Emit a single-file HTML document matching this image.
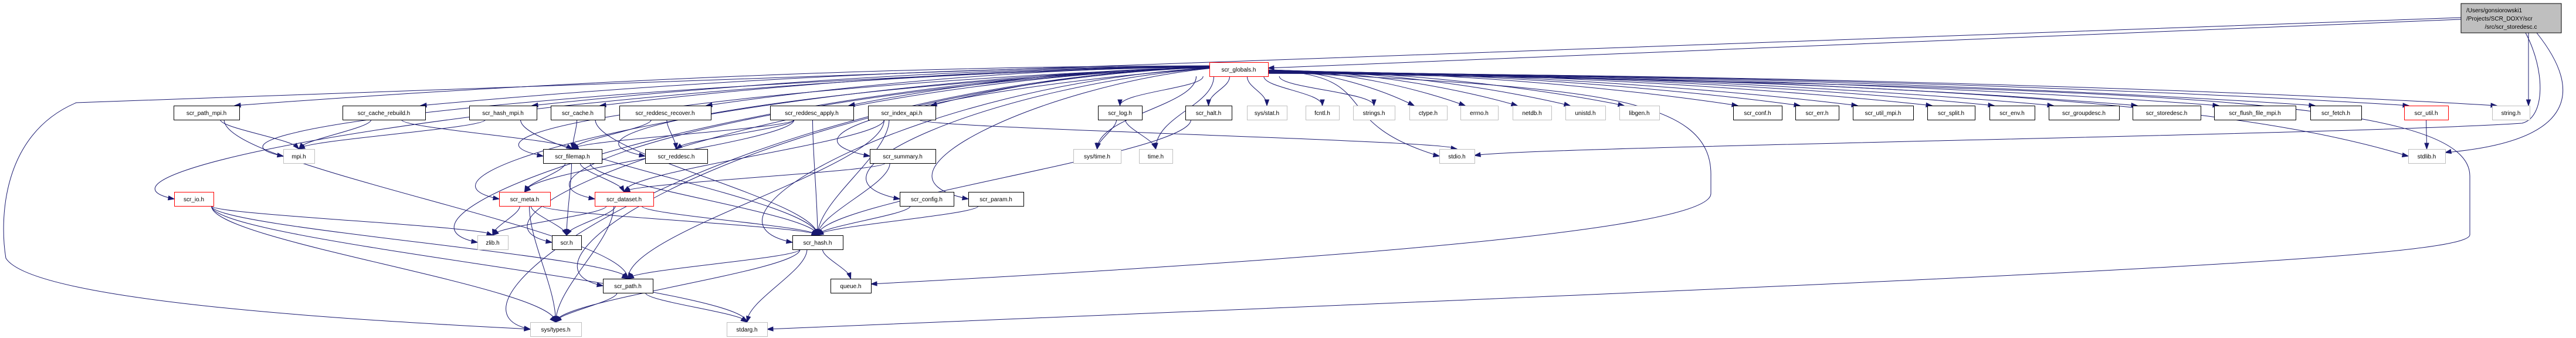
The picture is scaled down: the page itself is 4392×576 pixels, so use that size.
<!DOCTYPE html>
<html><head><meta charset="utf-8"><style>
html,body{margin:0;padding:0;background:#fff;}
svg{display:block;}
text{font-family:"Liberation Sans",Arial,sans-serif;font-size:10px;}
</style></head><body>
<svg id="g" width="4392" height="576" xmlns="http://www.w3.org/2000/svg">
<g id="edges" fill="none" stroke="#191970" stroke-width="1"></g>
<g id="arrows" fill="#191970" stroke="#191970"></g>
<g id="nodes">
<rect x="4196" y="6" width="171" height="50" fill="#bfbfbf" stroke="#000"/>
<text x="4205" y="21">/Users/gonsiorowski1</text>
<text x="4205" y="35">/Projects/SCR_DOXY/scr</text>
<text x="4281" y="49" text-anchor="middle">/src/scr_storedesc.c</text>
</g>
</svg>
<script>
var N={
globals:[2062,2162,106,'r','scr_globals.h'],
path_mpi:[296,408,180,'k','scr_path_mpi.h'],
cache_rebuild:[584,725,180,'k','scr_cache_rebuild.h'],
hash_mpi:[800,915,180,'k','scr_hash_mpi.h'],
cache:[939,1031,180,'k','scr_cache.h'],
reddesc_recover:[1056,1212,180,'k','scr_reddesc_recover.h'],
reddesc_apply:[1313,1455,180,'k','scr_reddesc_apply.h'],
index_api:[1480,1595,180,'k','scr_index_api.h'],
log:[1872,1947,180,'k','scr_log.h'],
halt:[2021,2100,180,'k','scr_halt.h'],
sysstat:[2126,2194,180,'g','sys/stat.h'],
fcntl:[2226,2283,180,'g','fcntl.h'],
strings:[2307,2378,180,'g','strings.h'],
ctype:[2403,2467,180,'g','ctype.h'],
errno:[2490,2554,180,'g','errno.h'],
netdb:[2579,2645,180,'g','netdb.h'],
unistd:[2669,2737,180,'g','unistd.h'],
libgen:[2761,2829,180,'g','libgen.h'],
conf:[2955,3038,180,'k','scr_conf.h'],
err:[3061,3135,180,'k','scr_err.h'],
util_mpi:[3159,3262,180,'k','scr_util_mpi.h'],
split:[3286,3367,180,'k','scr_split.h'],
env:[3392,3469,180,'k','scr_env.h'],
groupdesc:[3493,3613,180,'k','scr_groupdesc.h'],
storedesc:[3636,3752,180,'k','scr_storedesc.h'],
flush:[3775,3914,180,'k','scr_flush_file_mpi.h'],
fetch:[3939,4026,180,'k','scr_fetch.h'],
util:[4099,4174,180,'r','scr_util.h'],
string:[4249,4313,180,'g','string.h'],
mpi:[483,536,254,'g','mpi.h'],
filemap:[926,1026,254,'k','scr_filemap.h'],
reddesc:[1100,1206,254,'k','scr_reddesc.h'],
summary:[1483,1595,254,'k','scr_summary.h'],
systime:[1830,1911,254,'g','sys/time.h'],
time:[1942,1999,254,'g','time.h'],
stdio:[2454,2514,254,'g','stdio.h'],
stdlib:[4106,4169,254,'g','stdlib.h'],
io:[297,364,327,'r','scr_io.h'],
meta:[851,938,327,'r','scr_meta.h'],
dataset:[1014,1114,327,'r','scr_dataset.h'],
config:[1534,1626,327,'k','scr_config.h'],
param:[1651,1745,327,'k','scr_param.h'],
zlib:[814,866,401,'g','zlib.h'],
scr:[941,991,401,'k','scr.h'],
hash:[1351,1437,401,'k','scr_hash.h'],
path:[1028,1113,475,'k','scr_path.h'],
queue:[1416,1485,475,'k','queue.h'],
systypes:[904,991,549,'g','sys/types.h'],
stdarg:[1239,1308,549,'g','stdarg.h']
};
var NS='http://www.w3.org/2000/svg';
var E=document.getElementById('edges'),A=document.getElementById('arrows'),G=document.getElementById('nodes');
function el(t,a,p){var e=document.createElementNS(NS,t);for(var k in a)e.setAttribute(k,a[k]);p.appendChild(e);return e;}
function arrow(cx,cy,ex,ey){var dx=ex-cx,dy=ey-cy,l=Math.hypot(dx,dy)||1;dx/=l;dy/=l;var L=10,W=3.5;
var bx=ex-dx*L,by=ey-dy*L;el('polygon',{points:ex+','+ey+' '+(bx-dy*W)+','+(by+dx*W)+' '+(bx+dy*W)+','+(by-dx*W)},A);}
function path(d,cx,cy,ex,ey){el('path',{d:d},E);arrow(cx,cy,ex,ey);}
function cx(n){return (N[n][0]+N[n][1])/2;}
function edge(s,t){var S=N[s],T=N[t];var sb=S[2]+24,ty=T[2];var tcx=cx(t),scx=cx(s);
 var sx,sy,ex=tcx,ey=ty;
 if(s=='globals'){var d=tcx-2112;
  if(Math.abs(d)<250){sx=2112+d*0.3;sy=130;ex=tcx;ey=ty;
   var c2y=ey-(ey-sy)*0.45;path('M'+sx+','+sy+' C'+sx+','+(sy+(ey-sy)*0.4)+' '+ex+','+c2y+' '+ex+','+ey,ex,c2y,ex,ey);return;}
  sx=d<0?2062:2162;sy=118+Math.max(-10,Math.min(10,d/300));
  if(ty==180){ex=d<0?T[1]-8:T[0]+8;ey=180;
   var c1x=sx+(ex-sx)*0.4;path('M'+sx+','+sy+' C'+c1x+','+sy+' '+(ex-(ex-sx)*0.2)+','+(ey-25)+' '+ex+','+ey,ex-(ex-sx)*0.2,ey-25,ex,ey);return;}
  if(d<0){ex=T[0];ey=ty+12;
   var c1x=sx-(sx-ex)*0.7;
   path('M'+sx+','+sy+' C'+c1x+','+(sy+30)+' '+(ex-200)+','+(ey-40)+' '+ex+','+ey,ex-30,ey-5,ex,ey);return;}
  ex=T[0];ey=ty+12;
  var mx=sx+(ex-sx)*0.7;
  path('M'+sx+','+sy+' C'+mx+','+(sy+10)+' '+(ex-200)+','+(ey-60)+' '+ex+','+ey,ex-60,ey-12,ex,ey);return;}
 sx=scx+Math.max(-30,Math.min(30,(tcx-scx)*0.15));sy=sb;
 var h=ey-sy;path('M'+sx+','+sy+' C'+sx+','+(sy+h*0.3)+' '+ex+','+(ey-h*0.3)+' '+ex+','+ey,ex-(ex-sx)*0.1,ey-h*0.3,ex,ey);}
var gl=['path_mpi','cache_rebuild','hash_mpi','cache','reddesc_recover','reddesc_apply','index_api','log','halt','sysstat','fcntl','strings','ctype','errno','netdb','unistd','libgen','conf','err','util_mpi','split','env','groupdesc','storedesc','flush','fetch','util','string','mpi','filemap','reddesc','summary','systime','time','stdio','stdlib','io','meta','dataset','config','param','zlib','scr','hash','path','systypes'];
gl.forEach(function(t){edge('globals',t);});
[['path_mpi','mpi'],['path_mpi','path'],['cache_rebuild','mpi'],['cache_rebuild','filemap'],['hash_mpi','mpi'],['hash_mpi','hash'],['cache','filemap'],['cache','hash'],
['reddesc_recover','filemap'],['reddesc_recover','reddesc'],['reddesc_apply','reddesc'],['reddesc_apply','filemap'],['reddesc_apply','hash'],['reddesc_apply','meta'],
['index_api','hash'],['index_api','path'],['index_api','dataset'],['index_api','stdio'],['log','systime'],['log','time'],['halt','hash'],['summary','dataset'],['summary','hash'],
['config','hash'],['param','hash'],['filemap','meta'],['filemap','dataset'],['filemap','scr'],['filemap','hash'],['meta','zlib'],['meta','scr'],['meta','systypes'],['meta','hash'],
['dataset','zlib'],['dataset','scr'],['dataset','systypes'],['dataset','hash'],['io','zlib'],['io','path'],['io','systypes'],['io','stdarg'],
['hash','path'],['hash','queue'],['hash','stdarg'],['hash','systypes'],['path','systypes'],['path','stdarg'],['util','stdlib']].forEach(function(p){edge(p[0],p[1]);});
path('M2162,122 C2700,150 2920,160 2917,300 L2917,330 C2917,380 2500,430 1485,484',1600,478,1485,484);
path('M2162,124 C3600,150 4211,160 4211,300 L4211,400 C4211,440 3500,470 1308,561',1400,557,1308,561);
path('M4196,33 L2162,116',2180,115,2162,116);
path('M4196,30 L130,175 C0,230 0,380 10,440 C60,520 700,550 904,561',800,556,904,561);
path('M4306,56 C4340,120 4340,200 4300,210 C4000,230 2600,250 2514,265',2560,258,2514,265);
path('M4311,56 L4311,180',4311,170,4311,180);
path('M4325,56 C4400,150 4400,240 4169,260',4200,254,4169,260);
for(var k in N){var n=N[k];var st=n[3]=='g'?'#bfbfbf':(n[3]=='r'?'#ff0000':'#000');
 el('rect',{x:n[0]+0.5,y:n[2]+0.5,width:n[1]-n[0],height:24,fill:'#fff',stroke:st},G);
 var t=el('text',{x:(n[0]+n[1])/2,y:n[2]+16,'text-anchor':'middle'},G);t.textContent=n[4];}
</script>
</body></html>
